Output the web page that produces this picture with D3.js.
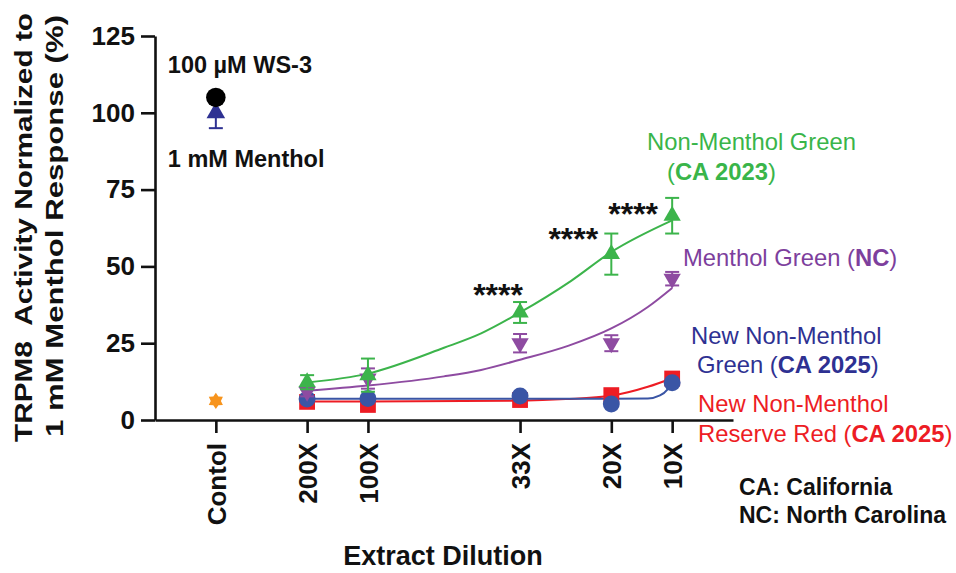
<!DOCTYPE html>
<html>
<head>
<meta charset="utf-8">
<script src="https://cdn.jsdelivr.net/npm/d3@7"></script>
<style>
  html, body { margin: 0; padding: 0; background: #fff; }
  svg { display: block; font-family: "Liberation Sans", Arial, Helvetica, sans-serif; }
</style>
</head>
<body>
<script>
// ---------- DATA ----------
const categories = ["Contol", "200X", "100X", "33X", "20X", "10X"];
const xValues = [0, 3, 5, 10, 13, 15];          // underlying numeric x of each category
const dilutionX = [3, 5, 10, 13, 15];            // x of extract dilutions

const yTicks = [0, 25, 50, 75, 100, 125];

// Control column
const ws3Mean = 105;
const mentholMean = 100, mentholErr = 5;
const vehicleMean = 6.2;

// Non-Menthol Green (CA 2023)
const greenMean = [12.3, 14.6, 35, 54, 66.5];
const greenErr  = [2.3, 5.4, 3.4, 6.7, 5.8];
// Menthol Green (NC)
const purpleMean = [9.2, 13.5, 25, 25, 46];
const purpleErr  = [1.5, 3.3, 3.0, 2.6, 2.2];
// New Non-Menthol Green (CA 2025)
const blueMean = [6.8, 7.0, 7.8, 5.2, 12.1];
// New Non-Menthol Reserve Red (CA 2025)
const redMean = [5.9, 4.9, 6.5, 8.1, 13.5];

// Fitted curves
const greenFitX  = [3, 5, 7.5, 8.72, 10, 11.68, 13, 15];
const greenFitY  = [12.2, 15.1, 23.5, 28.2, 35, 45.3, 54.7, 65];
const purpleFitX = [3, 5, 7.5, 8.72, 10, 11.6, 13, 14.2, 15];
const purpleFitY = [9.5, 11.2, 14.2, 16.3, 19.6, 24.2, 29.8, 36.8, 43];
const blueFitX   = [3, 13, 14.2, 14.6, 14.85, 15];
const blueFitY   = [6.9, 6.9, 7.0, 8.0, 10.0, 12.3];
const redFitX    = [3, 5, 10, 11.5, 13, 14.2, 15];
const redFitY    = [6.0, 6.0, 6.3, 6.8, 7.9, 10.8, 13.6];

const sigMarks = [10, 13, 15];   // x of "****" annotations

// ---------- STYLE ----------
const C = {
  green: "#3cb44b", greenText: "#39b54a",
  purple: "#8e4ba1", purpleText: "#7d3f9d",
  blue: "#3a55a5", blueText: "#2e3192",
  red: "#ed1c24", orange: "#f7941d", navy: "#2e3192"
};

const W = 956, H = 573;
const svg = d3.select("body").append("svg").attr("width", W).attr("height", H);
svg.append("rect").attr("width", W).attr("height", H).attr("fill", "#fff");

const x = d3.scaleLinear().domain([-2, 17]).range([155, 733]);
const y = d3.scaleLinear().domain([0, 125]).range([420, 36]);

// ---------- AXES ----------
const yAxis = svg.append("g").attr("transform", `translate(${x(-2)},0)`)
  .call(d3.axisLeft(y).tickValues(yTicks).tickSize(14).tickPadding(6).tickSizeOuter(0));
const xAxis = svg.append("g").attr("transform", `translate(0,${y(0)})`)
  .call(d3.axisBottom(x).tickValues(xValues).tickFormat((d, i) => categories[i]).tickSize(13).tickSizeOuter(0));

[yAxis, xAxis].forEach(a => {
  a.selectAll("path, line").attr("stroke", "#111").attr("stroke-width", 2.6);
  a.selectAll("text").attr("fill", "#111").attr("font-size", 26).attr("font-weight", "bold")
    .attr("font-family", "'Liberation Sans', Arial, sans-serif");
});
xAxis.selectAll(".tick text")
  .attr("transform", "rotate(-90)")
  .attr("text-anchor", "end")
  .attr("x", -23).attr("y", 0).attr("dy", "0.36em");

// Axis titles
const yt = svg.append("g").attr("font-weight", "bold").attr("font-size", 24).attr("fill", "#111");
yt.append("text").attr("transform", "translate(32,227.5) rotate(-90)").attr("text-anchor", "middle")
  .attr("textLength", 429).attr("lengthAdjust", "spacingAndGlyphs")
  .attr("xml:space", "preserve").text("TRPM8  Activity Normalized to");
yt.append("text").attr("transform", "translate(63,226) rotate(-90)").attr("text-anchor", "middle")
  .attr("textLength", 422).attr("lengthAdjust", "spacingAndGlyphs")
  .text("1 mM Menthol Response (%)");
svg.append("text").attr("x", 443).attr("y", 565).attr("text-anchor", "middle")
  .attr("font-weight", "bold").attr("font-size", 27).attr("fill", "#111").text("Extract Dilution");

// ---------- HELPERS ----------
const line = d3.line().x(d => x(d[0])).y(d => y(d[1])).curve(d3.curveMonotoneX);
function fit(xs, ys, color) {
  svg.append("path").datum(xs.map((v, i) => [v, ys[i]]))
    .attr("d", line).attr("fill", "none").attr("stroke", color).attr("stroke-width", 2);
}
function errBars(xs, means, errs, color, dir) {
  const g = svg.append("g").attr("stroke", color).attr("stroke-width", 2);
  xs.forEach((xv, i) => {
    const lo = means[i] - errs[i], hi = means[i] + errs[i];
    const ends = dir === "both" ? [lo, hi] : dir === "up" ? [hi] : [lo];
    g.append("line").attr("x1", x(xv)).attr("x2", x(xv))
      .attr("y1", y(d3.min([means[i], ...ends]))).attr("y2", y(d3.max([means[i], ...ends])));
    ends.forEach(e => g.append("line").attr("x1", x(xv) - 7).attr("x2", x(xv) + 7)
      .attr("y1", y(e)).attr("y2", y(e)));
  });
}
function markers(xs, means, type, size, color, rot) {
  svg.append("g").selectAll("path").data(xs.map((v, i) => [v, means[i]])).join("path")
    .attr("transform", d => `translate(${x(d[0])},${y(d[1])})${rot ? " rotate(" + rot + ")" : ""}`)
    .attr("d", d3.symbol().type(type).size(size)).attr("fill", color);
}
const hexStar = {
  draw(ctx, size) {
    const R = Math.sqrt(size / 1.8), r = R * 0.62;
    for (let k = 0; k < 12; k++) {
      const a = Math.PI / 6 * k - Math.PI / 2;
      const rad = k % 2 === 0 ? R : r;
      k === 0 ? ctx.moveTo(rad * Math.cos(a), rad * Math.sin(a)) : ctx.lineTo(rad * Math.cos(a), rad * Math.sin(a));
    }
    ctx.closePath();
  }
};

// ---------- SERIES ----------
fit(redFitX, redFitY, C.red);
fit(blueFitX, blueFitY, C.blue);
fit(purpleFitX, purpleFitY, C.purple);
fit(greenFitX, greenFitY, C.green);

markers(dilutionX, redMean, d3.symbolSquare, 250, C.red);
markers(dilutionX, blueMean, d3.symbolCircle, 225, C.blue);
errBars(dilutionX, purpleMean, purpleErr, C.purple, "both");
markers(dilutionX, purpleMean, d3.symbolTriangle, 130, C.purple, 180);
errBars(dilutionX, greenMean, greenErr, C.green, "both");
markers(dilutionX, greenMean, d3.symbolTriangle, 130, C.green);

// Control column
markers([0], [vehicleMean], hexStar, 120, C.orange);
errBars([0], [mentholMean], [mentholErr], C.navy, "down");
markers([0], [mentholMean], d3.symbolTriangle, 150, C.navy);
markers([0], [ws3Mean], d3.symbolCircle, 300, "#000");

// ---------- ANNOTATIONS ----------
const ann = svg.append("g").attr("font-weight", "bold").attr("fill", "#111");
ann.append("text").attr("x", x(0) - 48).attr("y", 73).attr("font-size", 23.5).text("100 µM WS-3");
ann.append("text").attr("x", x(0) - 48).attr("y", 167).attr("font-size", 23.5).text("1 mM Menthol");

const starOffsets = [-22, -38, -39];
const starDy = [288, 232, 207];
sigMarks.forEach((xv, i) => {
  ann.append("text").attr("x", x(xv) + starOffsets[i]).attr("y", starDy[i] + 18)
    .attr("text-anchor", "middle").attr("font-size", 32).text("****");
});

function label(xp, yp, parts, color) {
  const t = svg.append("text").attr("x", xp).attr("y", yp).attr("font-size", 23.8).attr("fill", color);
  parts.forEach(p => t.append("tspan").attr("font-weight", p[1] ? "bold" : "normal").text(p[0]));
}
label(647, 150, [["Non-Menthol Green", 0]], C.greenText);
label(667, 180, [["(", 0], ["CA 2023", 1], [")", 0]], C.greenText);
label(683, 266, [["Menthol Green (", 0], ["NC", 1], [")", 0]], C.purpleText);
label(691, 344, [["New Non-Menthol", 0]], C.blueText);
label(697, 373, [["Green (", 0], ["CA 2025", 1], [")", 0]], C.blueText);
label(698, 412, [["New Non-Menthol", 0]], C.red);
label(698, 442, [["Reserve Red (", 0], ["CA 2025", 1], [")", 0]], C.red);

const key = svg.append("g").attr("font-weight", "bold").attr("font-size", 23).attr("fill", "#111");
key.append("text").attr("x", 739).attr("y", 495).text("CA: California");
key.append("text").attr("x", 739).attr("y", 523).text("NC: North Carolina");
</script>
</body>
</html>
